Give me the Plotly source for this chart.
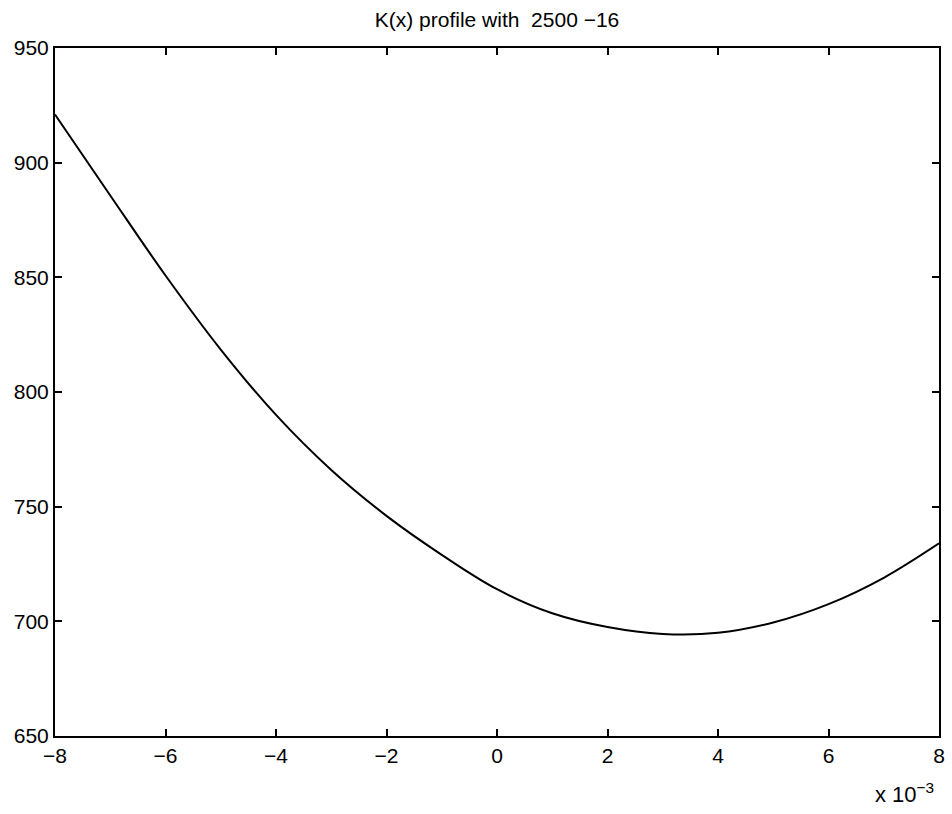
import plotly.graph_objects as go

# x in units of 1e-3
x_vals = [-8, -7, -6, -5, -4, -3, -2, -1, 0, 1, 2, 3, 4, 5, 6, 7, 8]
k_vals = [921, 885.7, 850.8, 818.5, 790, 766, 746, 729, 714, 703.5,
          697.5, 694.5, 695, 699.5, 707.5, 719, 734]

x_ticks = [-8, -6, -4, -2, 0, 2, 4, 6, 8]
y_ticks = [650, 700, 750, 800, 850, 900, 950]

FONT = "Liberation Sans, Arial, Helvetica, sans-serif"

fig = go.Figure()
fig.add_trace(go.Scatter(x=x_vals, y=k_vals, mode="lines",
                         line=dict(color="black", width=2, shape="spline", smoothing=1),
                         showlegend=False, hoverinfo="skip"))

axis_common = dict(showline=True, linecolor="black", linewidth=2, mirror="allticks",
                   ticks="inside", ticklen=7, tickwidth=1.5, tickcolor="black",
                   showgrid=False, zeroline=False,
                   tickfont=dict(family=FONT, size=21, color="black"))

fig.update_xaxes(range=[-8, 8], tickvals=x_ticks, **axis_common)
fig.update_yaxes(range=[650, 950], tickvals=y_ticks, **axis_common)

fig.update_layout(
    width=952, height=814,
    margin=dict(l=55, r=7, t=48, b=78),
    paper_bgcolor="white", plot_bgcolor="white",
    title=dict(text="K(x) profile with\u00a0\u00a02500 \u221216", x=0.5, xanchor="center",
               xref="paper", y=1 - 20 / 814, yanchor="middle",
               font=dict(family=FONT, size=21, color="black")),
    annotations=[dict(text="x 10<sup>\u22123</sup>", xref="paper", yref="paper",
                      x=0.9966, y=-0.083, xanchor="right", yanchor="middle",
                      showarrow=False, font=dict(family=FONT, size=22, color="black"))],
)

fig.write_html("out.html")
